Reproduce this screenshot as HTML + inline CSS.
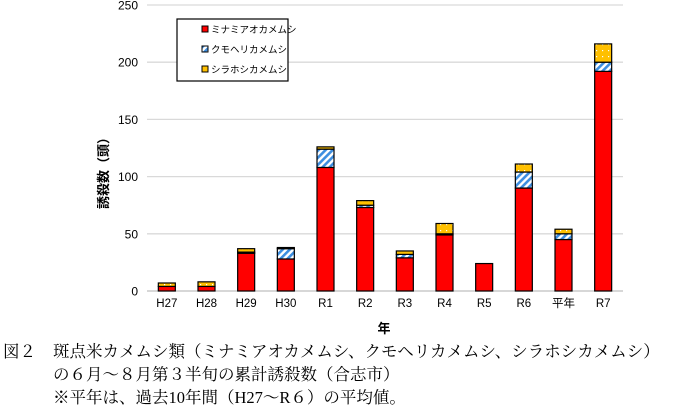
<!DOCTYPE html>
<html><head><meta charset="utf-8">
<style>
html,body{margin:0;padding:0;background:#fff;}
body{width:700px;height:417px;position:relative;overflow:hidden;font-family:"Liberation Sans","Noto Sans CJK JP",sans-serif;}
.cap{position:absolute;font-family:"Liberation Serif","Noto Serif CJK SC",serif;font-size:16.5px;color:#000;white-space:nowrap;line-height:20px;}
</style></head>
<body>
<svg id="chart" width="700" height="340" style="position:absolute;left:0;top:0">
<defs>
<pattern id="hatch" width="5" height="5" patternUnits="userSpaceOnUse" patternTransform="rotate(45)">
<rect width="5" height="5" fill="#fff"/><rect width="2.6" height="5" fill="#3d8ee0"/>
</pattern>
<pattern id="dots" width="6" height="6" patternUnits="userSpaceOnUse">
<rect width="6" height="6" fill="#ffc000"/><rect x="2" y="2" width="1.2" height="1.2" fill="#fff"/>
</pattern>
</defs>
<g id="grid"></g>
<g id="bars"></g>
<g id="xlabels"></g>
<text transform="translate(108,170) rotate(-90)" text-anchor="middle" font-size="13" font-weight="bold" font-family="Liberation Sans, Noto Sans CJK JP, sans-serif">誘殺数（頭）</text>
<text x="384" y="333" text-anchor="middle" font-size="13" font-weight="bold" font-family="Liberation Sans, Noto Sans CJK JP, sans-serif">年</text>
<g>
<rect x="177" y="19" width="111" height="62" fill="#fff" stroke="#000" stroke-width="1.2"/>
<rect x="202" y="26" width="6" height="6" fill="#ff0000" stroke="#000" stroke-width="1"/>
<text x="211" y="33" font-size="9.5">ミナミアオカメムシ</text>
<rect x="202" y="46" width="6" height="6" fill="url(#hatch)" stroke="#000" stroke-width="1"/>
<text x="211" y="53" font-size="9.5">クモヘリカメムシ</text>
<rect x="202" y="66" width="6" height="6" fill="#ffc000" stroke="#000" stroke-width="1"/>
<text x="211" y="73" font-size="9.5">シラホシカメムシ</text>
</g>
</svg>
<div class="cap" style="left:3px;top:342px;">図２</div>
<div class="cap" style="left:53px;top:342px;">斑点米カメムシ類（ミナミアオカメムシ、クモヘリカメムシ、シラホシカメムシ）</div>
<div class="cap" style="left:53px;top:365px;">の６月～８月第３半旬の累計誘殺数（合志市）</div>
<div class="cap" style="left:53px;top:388px;">※平年は、過去10年間（H27～R６）の平均値。</div>
<script>
const categories = ["H27","H28","H29","H30","R1","R2","R3","R4","R5","R6","平年","R7"];
const minami = [4,4,33,28,108,73,29,49,24,90,45,192];
const kumo = [0,0,1,9,16,2,3,1,0,14,5,8];
const shirahoshi = [3,4,3,1,2,4,3,9,0,7,4,16];
const yTicks = [0,50,100,150,200,250];

const NS="http://www.w3.org/2000/svg";
const X0=147, X1=623, Y0=291, YTOP=5, YMAX=250;
const step=(X1-X0)/categories.length;
function xc(i){return X0+step*(i+0.5);}
function y(v){return Y0-(v/YMAX)*(Y0-YTOP);}
function mk(tag,attrs,parent){const e=document.createElementNS(NS,tag);for(const k in attrs)e.setAttribute(k,attrs[k]);parent.appendChild(e);return e;}

const grid=document.getElementById('grid');
yTicks.forEach(t=>{
  const l=mk('line',{x1:X0,x2:X1,y1:y(t),y2:y(t),stroke:t===0?'#bfbfbf':'#d9d9d9','stroke-width':1.3},grid);
  
  
  const tx=mk('text',{x:138,y:y(t)+4.5,'text-anchor':'end','font-size':12},grid);
  
  
  tx.textContent=t;
});

const bars=document.getElementById('bars');
const xl=document.getElementById('xlabels');
const BW=17;
categories.forEach((c,i)=>{
  const x=xc(i)-BW/2;
  let base=0;
  [[minami,'#ff0000','minami'],[kumo,'url(#hatch)','kumo'],[shirahoshi,'url(#dots)','shirahoshi']].forEach(([arr,fill,nm])=>{
    const v=arr[i];
    if(v>0){
      const r=mk('rect',{x:x,y:y(base+v),width:BW,height:y(base)-y(base+v),fill:fill,stroke:'#000','stroke-width':1.2},bars);
      
      
    }
    base+=v;
  });
  const t=mk('text',{x:xc(i),y:307,'text-anchor':'middle','font-size':11.5},xl);
  
  
  t.textContent=c;
});
</script>
</body></html>
